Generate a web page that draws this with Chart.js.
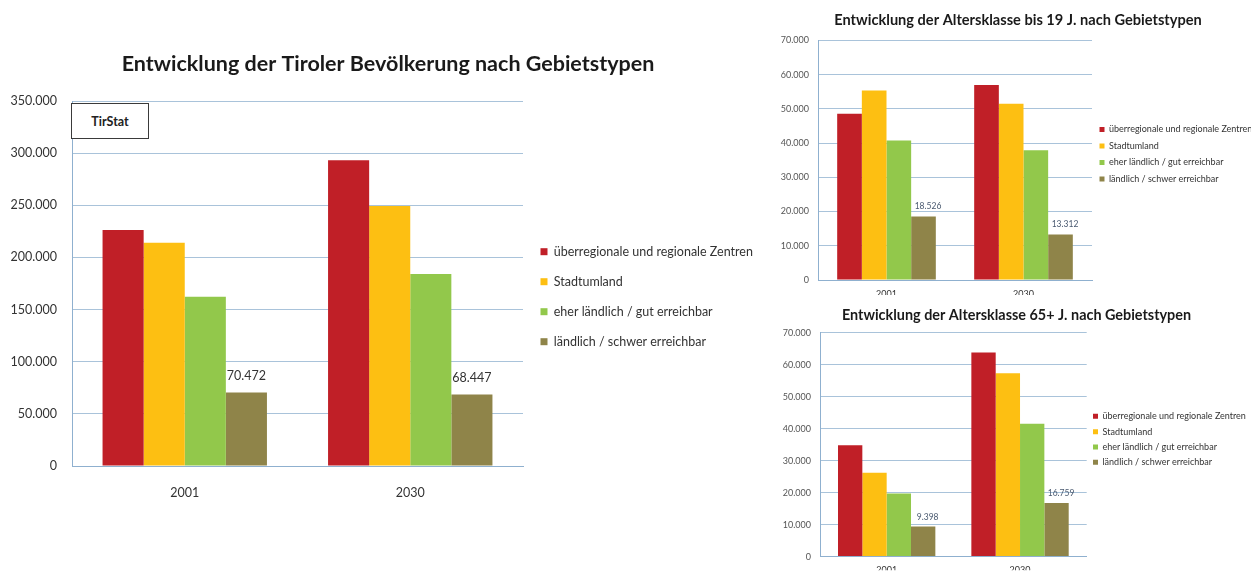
<!DOCTYPE html>
<html>
<head>
<meta charset="utf-8">
<script src="https://cdn.jsdelivr.net/npm/chart.js@4/dist/chart.umd.min.js"></script>
<style>
html,body{margin:0;padding:0;background:#fff;}
body{width:1251px;height:571px;position:relative;overflow:hidden;font-family:Lato,"Open Sans",sans-serif;}
.pane{position:absolute;}
#tirstat{position:absolute;left:71px;top:103px;width:78px;height:36px;border:1.5px solid #3a3a3a;background:#fff;
  font:bold 12.5px Lato,sans-serif;color:#222;display:flex;align-items:center;justify-content:center;box-sizing:border-box;}
</style>
</head>
<body>
<div class="pane" style="left:0;top:0;width:776px;height:571px"><canvas id="cMain"></canvas></div>
<div class="pane" style="left:770px;top:0;width:496px;height:295px"><canvas id="cYoung"></canvas></div>
<div class="pane" style="left:770px;top:295px;width:493px;height:276px"><canvas id="cOld"></canvas></div>
<div id="tirstat">TirStat</div>
<script>
// ---------- data ----------
const categories = ['2001', '2030'];
const seriesNames = [
  'überregionale und regionale Zentren',
  'Stadtumland',
  'eher ländlich / gut erreichbar',
  'ländlich / schwer erreichbar'
];
const seriesColors = ['#C01F27', '#FDBF12', '#92C84B', '#8F8449'];

// Gesamtbevölkerung
const totalZentren      = [226300, 293200];
const totalStadtumland  = [214100, 249300];
const totalEherLaendl   = [162300, 184000];
const totalLaendlich    = [70472, 68447];
// Altersklasse bis 19 J.
const youngZentren      = [48600, 57000];
const youngStadtumland  = [55400, 51500];
const youngEherLaendl   = [40800, 37900];
const youngLaendlich    = [18526, 13312];
// Altersklasse 65+ J.
const oldZentren        = [34800, 63800];
const oldStadtumland    = [26200, 57300];
const oldEherLaendl     = [19700, 41500];
const oldLaendlich      = [9398, 16759];

const mainTitle  = 'Entwicklung der Tiroler Bevölkerung nach Gebietstypen';
const youngTitle = 'Entwicklung der Altersklasse bis 19 J. nach Gebietstypen';
const oldTitle   = 'Entwicklung der Altersklasse 65+ J. nach Gebietstypen';
const mainAxisMax = 350000, mainAxisStep = 50000;
const smallAxisMax = 70000, smallAxisStep = 10000;

// ---------- helpers ----------
const FONT = 'Lato, "Open Sans", sans-serif';
const fmt = v => String(Math.round(v)).replace(/\B(?=(\d{3})+(?!\d))/g, '.');

// value labels above one dataset's bars (positions come from the bar elements)
const valueLabels = {
  id: 'valueLabels',
  afterDatasetsDraw(chart, args, o) {
    if (!o || o.datasetIndex === undefined) return;
    const ctx = chart.ctx;
    const meta = chart.getDatasetMeta(o.datasetIndex);
    const data = chart.data.datasets[o.datasetIndex].data;
    ctx.save();
    ctx.font = 'normal ' + o.size + 'px ' + FONT;
    ctx.fillStyle = o.color;
    ctx.textAlign = 'center';
    ctx.textBaseline = 'bottom';
    meta.data.forEach((bar, i) => {
      ctx.fillText(fmt(data[i]), bar.x + (o.dx || 0), bar.y - o.gap);
    });
    ctx.restore();
  }
};

// give the right-hand legend a fixed width so the plot area ends where wanted
const fixedLegendWidth = {
  id: 'fixedLegendWidth',
  beforeLayout(chart, args, o) {
    const lg = chart.legend;
    if (!lg || lg._fixedW) return;
    const orig = lg.fit;
    lg.fit = function () { orig.call(this); this.width = o.width; };
    lg._fixedW = true;
  }
};

function makeChart(g) {
  const datasets = g.series.map((arr, i) => ({
    label: seriesNames[i],
    data: arr,
    backgroundColor: seriesColors[i],
    borderWidth: 0,
    categoryPercentage: g.catPct,
    barPercentage: 1
  }));
  const lh = g.titleSize * 1.2;
  const titleTop = g.titleCY - lh / 2;
  const titleBottom = g.area.top - titleTop - lh;

  return new Chart(document.getElementById(g.id), {
    type: 'bar',
    data: { labels: categories, datasets },
    plugins: [valueLabels, fixedLegendWidth],
    options: {
      responsive: true,
      maintainAspectRatio: false,
      animation: false,
      devicePixelRatio: 1,
      events: [],
      layout: { padding: 0 },
      plugins: {
        tooltip: { enabled: false },
        fixedLegendWidth: { width: g.W - g.area.right },
        title: {
          display: true,
          text: g.title,
          color: '#1a1a1a',
          font: { family: FONT, size: g.titleSize, weight: 'bold', lineHeight: 1.2 },
          padding: { top: titleTop, bottom: titleBottom }
        },
        legend: {
          position: 'right',
          align: 'center',
          title: {
            display: true, text: '',
            font: { size: 1, lineHeight: 1 },
            padding: { top: g.legendShift * 2 - 1, bottom: 0 }
          },
          labels: {
            boxWidth: g.legendBox, boxHeight: g.legendBox,
            padding: g.legendPad,
            color: '#333',
            font: { family: FONT, size: g.legendSize }
          }
        },
        valueLabels: { datasetIndex: 3, size: g.valueSize, color: g.valueColor, gap: g.valueGap, dx: g.valueDx }
      },
      scales: {
        x: {
          afterFit: s => { s.height = g.H - g.area.bottom; },
          grid: { display: false, drawTicks: false },
          border: { display: true, color: '#8fb0cf', width: 1 },
          ticks: { color: '#333', padding: g.xPad, font: { family: FONT, size: g.tickSize } }
        },
        y: {
          min: 0, max: g.max,
          afterFit: s => { s.width = g.area.left; },
          grid: { color: '#a9c3da', lineWidth: 1, drawTicks: false },
          border: { display: true, color: '#8fb0cf', width: 1 },
          ticks: {
            stepSize: g.step, color: g.tickColor, padding: g.yPad,
            font: { family: FONT, size: g.tickSize },
            callback: v => fmt(v)
          }
        }
      }
    }
  });
}

makeChart({
  id: 'cMain', W: 776, H: 571,
  series: [totalZentren, totalStadtumland, totalEherLaendl, totalLaendlich],
  title: mainTitle, titleSize: 21.5, titleCY: 64,
  area: { left: 72, top: 101, right: 523, bottom: 466 },
  max: mainAxisMax, step: mainAxisStep, catPct: 0.729,
  tickSize: 12.5, tickColor: '#333', xPad: 19, yPad: 15,
  legendSize: 12.5, legendBox: 7, legendPad: 17.5, legendShift: 11.2,
  valueSize: 12.5, valueColor: '#333', valueGap: 10, valueDx: 0
});

makeChart({
  id: 'cYoung', W: 496, H: 295,
  series: [youngZentren, youngStadtumland, youngEherLaendl, youngLaendlich],
  title: youngTitle, titleSize: 14.6, titleCY: 20,
  area: { left: 48, top: 40.5, right: 322, bottom: 280 },
  max: smallAxisMax, step: smallAxisStep, catPct: 0.72,
  tickSize: 9, tickColor: '#555', xPad: 9, yPad: 9,
  legendSize: 9, legendBox: 5, legendPad: 7.5, legendShift: 6.75,
  valueSize: 8.5, valueColor: '#4a5a70', valueGap: 6, valueDx: 4.5
});

makeChart({
  id: 'cOld', W: 493, H: 276,
  series: [oldZentren, oldStadtumland, oldEherLaendl, oldLaendlich],
  title: oldTitle, titleSize: 14.4, titleCY: 20,
  area: { left: 50, top: 37.7, right: 316.7, bottom: 262.3 },
  max: smallAxisMax, step: smallAxisStep, catPct: 0.73,
  tickSize: 9, tickColor: '#555', xPad: 8, yPad: 9,
  legendSize: 9, legendBox: 5, legendPad: 6.3, legendShift: 6.3,
  valueSize: 8.5, valueColor: '#4a5a70', valueGap: 5, valueDx: 4.5
});
</script>
</body>
</html>
